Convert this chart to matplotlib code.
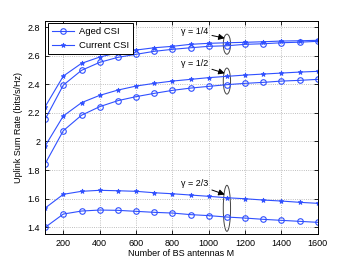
import numpy as np
import matplotlib
matplotlib.use('Agg')
import matplotlib.pyplot as plt
from matplotlib.patches import Ellipse

M = [100, 200, 300, 400, 500, 600, 700, 800, 900, 1000, 1100, 1200, 1300, 1400, 1500, 1600]

# gamma = 1/4
aged_14 = [2.155, 2.394, 2.497, 2.553, 2.588, 2.609, 2.630, 2.644, 2.655, 2.665, 2.669, 2.679, 2.683, 2.690, 2.694, 2.700]
curr_14 = [2.243, 2.457, 2.546, 2.590, 2.620, 2.639, 2.655, 2.665, 2.679, 2.686, 2.690, 2.693, 2.697, 2.702, 2.704, 2.707]
# gamma = 1/2
aged_12 = [1.844, 2.075, 2.183, 2.243, 2.285, 2.313, 2.336, 2.357, 2.373, 2.385, 2.397, 2.406, 2.413, 2.422, 2.427, 2.434]
curr_12 = [1.968, 2.178, 2.271, 2.322, 2.359, 2.387, 2.406, 2.422, 2.434, 2.446, 2.455, 2.464, 2.471, 2.478, 2.485, 2.490]
# gamma = 2/3
aged_23 = [1.399, 1.492, 1.513, 1.520, 1.518, 1.511, 1.504, 1.499, 1.488, 1.481, 1.471, 1.464, 1.455, 1.448, 1.441, 1.434]
curr_23 = [1.534, 1.630, 1.651, 1.658, 1.655, 1.651, 1.641, 1.634, 1.625, 1.616, 1.606, 1.599, 1.590, 1.583, 1.574, 1.567]

labels = ['\u03b3 = 1/4', '\u03b3 = 1/2', '\u03b3 = 2/3']
ell_y = [2.68, 2.422, 1.532]
ell_h = [0.14, 0.182, 0.322]
txt_y = [2.767, 2.543, 1.704]

plt.rcParams['font.family'] = ['Liberation Sans', 'DejaVu Sans']
plt.rcParams['font.size'] = 6.5

col = '#3050ff'
fig = plt.figure(figsize=(3.5, 2.64), dpi=100)
ax = fig.add_axes([0.129, 0.115, 0.779, 0.807])

ax.plot(M, aged_14, '-o', color=col, lw=0.8, ms=4, mfc='none', mew=0.8, label='Aged CSI')
ax.plot(M, curr_14, '-*', color=col, lw=0.8, ms=3.5, mew=0.6, label='Current CSI')
ax.plot(M, aged_12, '-o', color=col, lw=0.8, ms=4, mfc='none', mew=0.8)
ax.plot(M, curr_12, '-*', color=col, lw=0.8, ms=3.5, mew=0.6)
ax.plot(M, aged_23, '-o', color=col, lw=0.8, ms=4, mfc='none', mew=0.8)
ax.plot(M, curr_23, '-*', color=col, lw=0.8, ms=3.5, mew=0.6)

for i in range(3):
    ax.add_patch(Ellipse((1100, ell_y[i]), 40, ell_h[i], fill=False, ec='#444444', lw=0.7))
    ax.annotate(labels[i], xy=(1088, ell_y[i] + ell_h[i] * 0.3), xytext=(920, txt_y[i]),
                ha='center', va='center', fontsize=6.5,
                arrowprops=dict(arrowstyle='-|>', color='black', lw=0.7, mutation_scale=9,
                                shrinkA=1, shrinkB=0))

ax.set_xlim(100, 1600)
ax.set_ylim(1.355, 2.845)
ax.set_xticks(range(200, 1601, 200))
ax.set_yticks([1.4, 1.6, 1.8, 2.0, 2.2, 2.4, 2.6, 2.8])
ax.set_yticklabels(['1.4', '1.6', '1.8', '2', '2.2', '2.4', '2.6', '2.8'])
ax.tick_params(direction='in', length=3, width=0.6, top=True, right=True)
ax.grid(True, linestyle=':', color='#aaaaaa', lw=0.6)
for s in ax.spines.values():
    s.set_linewidth(0.7)
ax.set_xlabel('Number of BS antennas M', labelpad=1)
ax.set_ylabel('Uplink Sum Rate (bits/s/Hz)', labelpad=3)
leg = ax.legend(loc='upper left', fancybox=False, edgecolor='black', framealpha=1,
                borderaxespad=0.3, handlelength=2.4, handletextpad=0.5, fontsize=6.8)
leg.get_frame().set_linewidth(0.7)

fig.savefig('out.png', dpi=100)
